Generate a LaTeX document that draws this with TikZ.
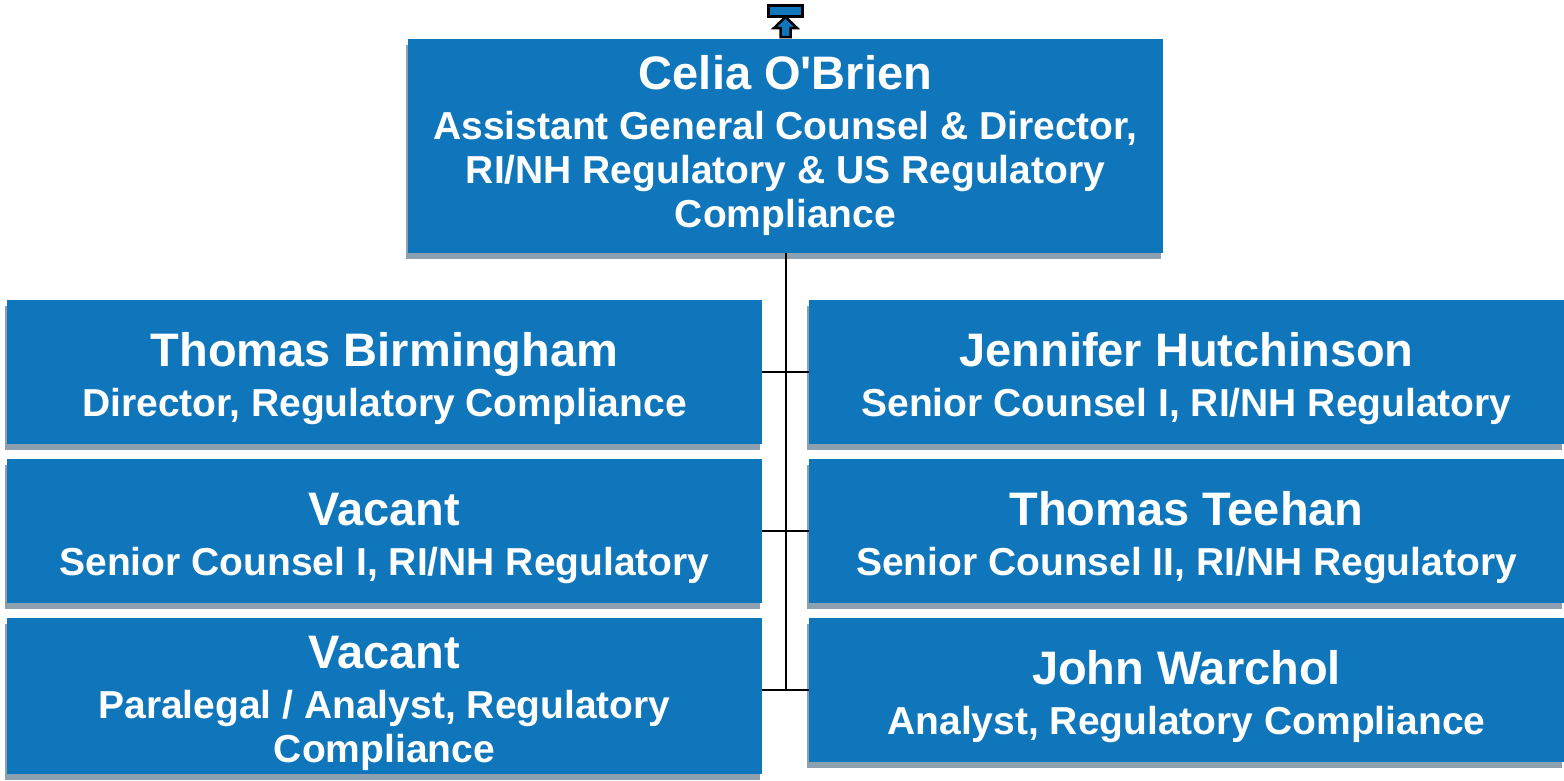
\documentclass[tikz,border=0pt]{standalone}
\usepackage{fontspec}
\newfontfamily\orgfont{Liberation Sans}
\usetikzlibrary{shadows}
\definecolor{boxblue}{RGB}{16,118,188}
\definecolor{shadowgrey}{RGB}{141,160,176}
\newcommand\staffname[2][47pt]{{\fontsize{47}{50}\selectfont\rule{0pt}{#1}#2}\\[6pt]}

\begin{document}
\begin{tikzpicture}[x=1pt,y=-1pt,
  staff/.style={fill=boxblue,text=white,inner sep=0,minimum width=755pt,minimum height=144pt,align=center,
    font=\orgfont\bfseries\fontsize{39}{44}\selectfont,
    general shadow={fill=shadowgrey,shadow xshift=-2.5pt,shadow yshift=-6pt}},
  link/.style={line width=2pt}]
\useasboundingbox(0,0)rectangle(1564,780);
% collapse tab above the top box
\node[draw=black,line width=3pt,fill=boxblue,minimum width=34pt,minimum height=11pt,inner sep=0](tab)at(785.5,10.5){};
\draw[line width=2.5pt,fill=boxblue,line join=miter](785.5,17)--(797,28)--(790.5,28)--(790.5,37)--(780.5,37)--(780.5,28)--(774,28)--cycle;
% boxes
\node[staff,minimum height=214pt](celia)at(785.5,146){\staffname[0pt]{Celia O'Brien}Assistant General Counsel \& Director,\\RI/NH Regulatory \& US Regulatory\\Compliance};
\node[staff](birmingham)at(384.5,372){\staffname{Thomas Birmingham}Director, Regulatory Compliance};
\node[staff](hutchinson)at(1186.5,372){\staffname{Jennifer Hutchinson}Senior Counsel I, RI/NH Regulatory};
\node[staff](vacantcounsel)at(384.5,531){\staffname{Vacant}Senior Counsel I, RI/NH Regulatory};
\node[staff](teehan)at(1186.5,531){\staffname{Thomas Teehan}Senior Counsel II, RI/NH Regulatory};
\node[staff,minimum height=156pt](vacantanalyst)at(384.5,696){\staffname{Vacant}Paralegal / Analyst, Regulatory\\Compliance};
\node[staff](warchol)at(1186.5,690){\staffname{John Warchol}Analyst, Regulatory Compliance};
% connectors
\draw[link](celia.south)--(celia.south|-warchol.west);
\draw[link](birmingham.east)--(hutchinson.west);
\draw[link](vacantcounsel.east)--(teehan.west);
\draw[link](vacantanalyst.east|-warchol.west)--(warchol.west);
\end{tikzpicture}
\end{document}
